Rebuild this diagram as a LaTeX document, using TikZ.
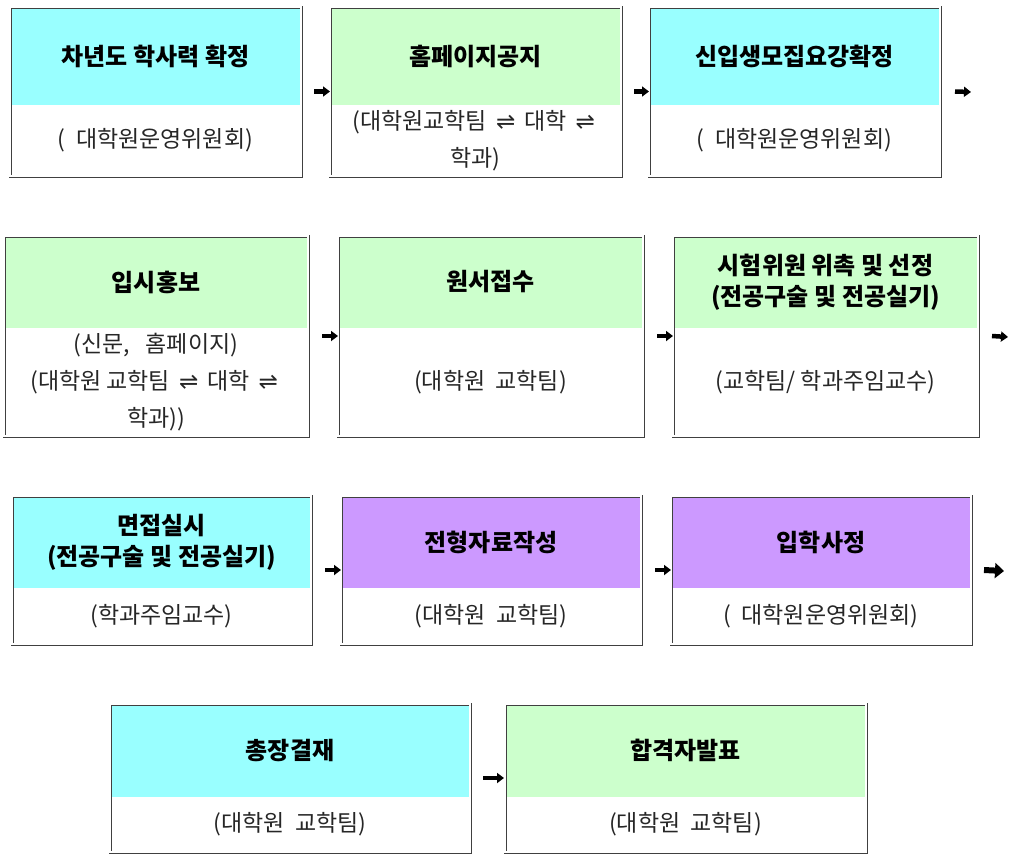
\documentclass[tikz,border=0pt]{standalone}
\usepackage{fontspec}
\newfontfamily\cjk{Noto Sans CJK KR}
\newfontfamily\symf{DejaVu Sans}
\usetikzlibrary{fit,calc,arrows.meta}
\definecolor{cyanbox}{HTML}{99FFFF}
\definecolor{greenbox}{HTML}{CCFFCC}
\definecolor{purplebox}{HTML}{CC99FF}
\newcommand{\lr}{\,{\symf ⇌}\,}
\newcommand{\mkbox}[7]{%
  \fill[#7] (#2,#3) rectangle (#4,#5);
  \draw[dblframe] (#2,#3) rectangle (#4,#6);
  \node[boxnode, fit={(#2,#3)(#4,#6)}] (#1) {};
  \coordinate (#1-t) at ($(#2,#3)!0.5!(#4,#5)$);
  \coordinate (#1-s) at ($(#2,#5)!0.5!(#4,#6)$);
}
\tikzset{
  dblframe/.style={draw=black!75, double=white, double distance=1.6pt, line width=0.7pt},
  boxnode/.style={inner sep=0pt, outer sep=0pt},
  ttl/.style={font=\cjk\bfseries\fontsize{24}{31}\selectfont, align=center, text=black},
  sub/.style={font=\cjk\fontsize{23}{37}\selectfont, align=center, text=black!85},
  flow/.style={line width=4.5pt, -{Triangle[length=7pt,width=10pt]}},
  bigflow/.style={line width=6pt, -{Triangle[length=9pt,width=15pt]}}
}
\begin{document}
\begin{tikzpicture}[x=1pt,y=-1pt]
\useasboundingbox (0,0) rectangle (1009,854);
% row 1
\mkbox{b1}{10}{7}{301}{105}{176}{cyanbox}
\mkbox{b2}{330}{7}{621}{105}{176}{greenbox}
\mkbox{b3}{649}{7}{940}{105}{176}{cyanbox}
% row 2
\mkbox{b4}{4}{236}{308}{328}{436}{greenbox}
\mkbox{b5}{338}{236}{643}{328}{436}{greenbox}
\mkbox{b6}{673}{236}{978}{328}{436}{greenbox}
% row 3
\mkbox{b7}{12}{496}{311}{588}{644}{cyanbox}
\mkbox{b8}{341}{496}{641}{588}{644}{purplebox}
\mkbox{b9}{671}{496}{971}{588}{644}{purplebox}
% row 4
\mkbox{b10}{110}{704}{470}{797}{852}{cyanbox}
\mkbox{b11}{505}{704}{866}{797}{852}{greenbox}

% titles
\node[ttl] (t1) at (b1-t) {차년도\ 학사력\ 확정};
\node[ttl] (t2) at (b2-t) {홈페이지공지};
\node[ttl] (t3) at (b3-t) {신입생모집요강확정};
\node[ttl] (t4) at (b4-t) {입시홍보};
\node[ttl] (t5) at (b5-t) {원서접수};
\node[ttl] (t6) at (b6-t) {시험위원\ 위촉\ 및\ 선정\\(전공구술\ 및\ 전공실기)};
\node[ttl] (t7) at (b7-t) {면접실시\\(전공구술\ 및\ 전공실기)};
\node[ttl] (t8) at (b8-t) {전형자료작성};
\node[ttl] (t9) at (b9-t) {입학사정};
\node[ttl] (t10) at (b10-t) {총장결재};
\node[ttl] (t11) at (b11-t) {합격자발표};

% subtitles
\node[sub] (s1) at (b1-s) {(\ \ 대학원운영위원회)};
\node[sub] (s2) at (b2-s) {(대학원교학팀 \lr{} 대학 \lr\\학과)};
\node[sub] (s3) at (b3-s) {(\ \ 대학원운영위원회)};
\node[sub] (s4) at (b4-s) {(신문,\ \ \ 홈페이지)\\(대학원 교학팀 \lr{} 대학 \lr\\학과))};
\node[sub] (s5) at (b5-s) {(대학원\ \ 교학팀)};
\node[sub] (s6) at (b6-s) {(교학팀/ 학과주임교수)};
\node[sub] (s7) at (b7-s) {(학과주임교수)};
\node[sub] (s8) at (b8-s) {(대학원\ \ 교학팀)};
\node[sub] (s9) at (b9-s) {(\ \ 대학원운영위원회)};
\node[sub] (s10) at (b10-s) {(대학원\ \ 교학팀)};
\node[sub] (s11) at (b11-s) {(대학원\ \ 교학팀)};

% connectors
\coordinate (e1) at (971,92);
\coordinate (e2) at (1008,337);
\coordinate (e3) at (1004,571);
\draw[flow] ([xshift=13pt]b1.east) -- (b2.west);
\draw[flow] ([xshift=13pt]b2.east) -- (b3.west);
\draw[flow] ([xshift=15pt]b3.east) -- (e1);
\draw[flow] ([xshift=14pt]b4.east) -- (b5.west);
\draw[flow] ([xshift=14pt]b5.east) -- (b6.west);
\draw[flow] ([xshift=14pt]b6.east) -- (e2);
\draw[flow] ([xshift=14pt]b7.east) -- (b8.west);
\draw[flow] ([xshift=14pt]b8.east) -- (b9.west);
\draw[bigflow] ([xshift=13pt]b9.east) -- (e3);
\draw[flow] ([xshift=13pt]b10.east) -- ([xshift=-1pt]b11.west);
\end{tikzpicture}
\end{document}
